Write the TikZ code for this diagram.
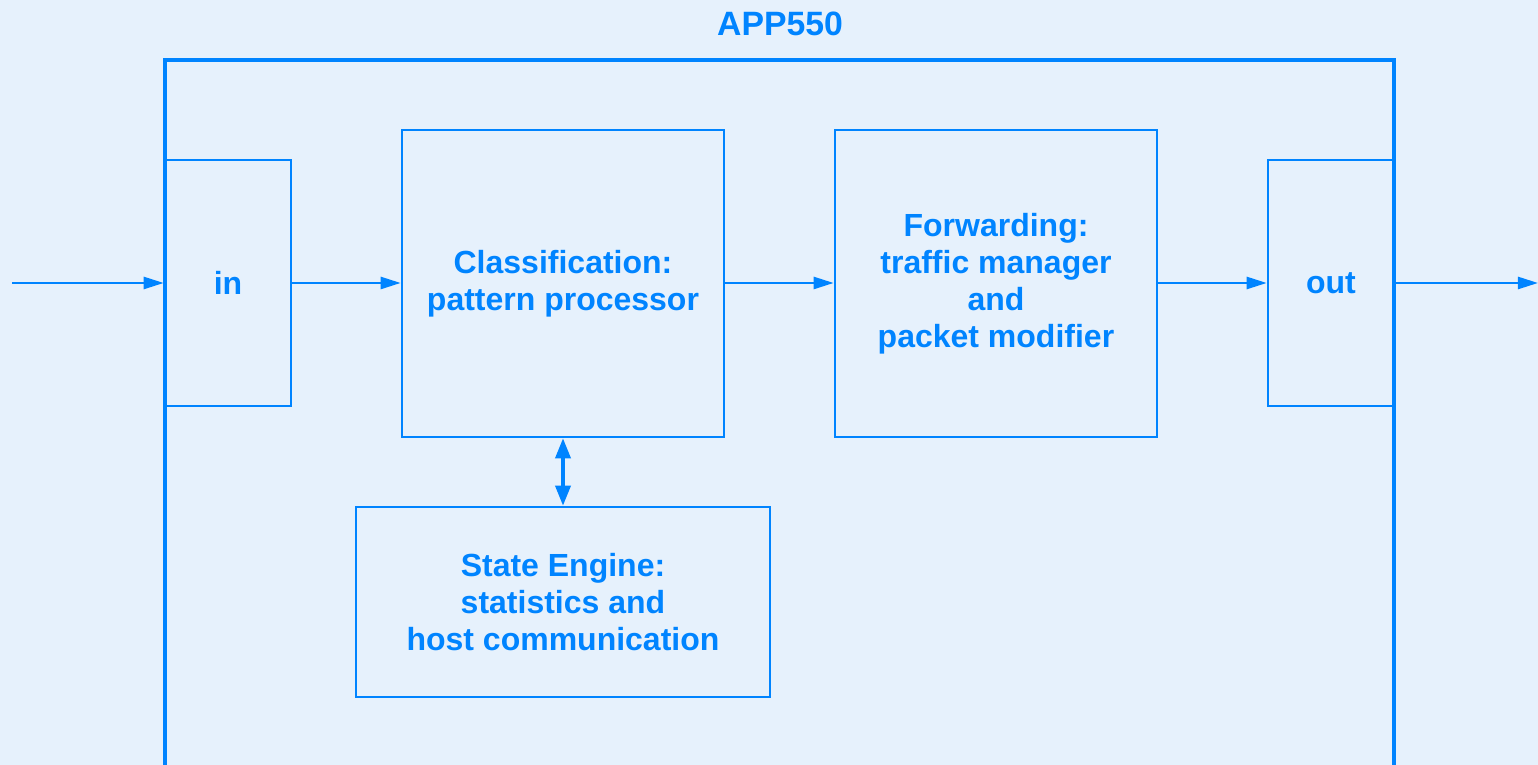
\documentclass[tikz,border=0pt]{standalone}
\usepackage{fontspec}
\setmainfont{Liberation Sans}
\usetikzlibrary{arrows.meta,positioning}
\definecolor{appblue}{RGB}{0,132,255}
\definecolor{appbg}{RGB}{230,241,252}

\begin{document}
\begin{tikzpicture}[x=0.01cm,y=-0.01cm,
  blk/.style={draw=appblue,line width=0.7pt,inner sep=0pt,align=center,
    text=appblue,font=\bfseries\fontsize{9.1}{10.5}\selectfont},
  flow/.style={draw=appblue,line width=0.7pt,-{Triangle[length=2mm,width=1.2mm]}},
  both/.style={draw=appblue,line width=1pt,{Triangle[length=2mm,width=1.5mm]}-{Triangle[length=2mm,width=1.5mm]}}]
  % Hintergrund
  \fill[appbg] (0,0) rectangle (1538,765);
  \useasboundingbox (0,0) rectangle (1538,765);

  % Chip
  \node[text=appblue,font=\bfseries\fontsize{9.6}{11}\selectfont] (title) at (780,24) {APP550};
  \draw[appblue,line width=1pt] (165,765) -- (165,60) -- (1394,60) -- (1394,765);

  % Bloecke
  \node[blk,minimum width=1.26cm,minimum height=2.46cm] (in) at (228,283) {in};
  \node[blk,minimum width=3.22cm,minimum height=3.07cm] (cls) at (563,283.5)
    {Classification:\\pattern processor};
  \node[blk,minimum width=3.22cm,minimum height=3.07cm] (fwd) at (996,283.5)
    {Forwarding:\\traffic manager\\and\\packet modifier};
  \node[blk,minimum width=1.26cm,minimum height=2.46cm] (out) at (1331,283) {out};
  \node[blk,minimum width=4.14cm,minimum height=1.90cm] (state) at (563,602)
    {State Engine:\\statistics and\\host communication};

  % Datenfluss
  \coordinate (src) at (12,283);
  \coordinate (snk) at (1538,283);
  \draw[flow] (src) -- (in.west);
  \draw[flow] (in.east) -- (cls.west |- in.east);
  \draw[flow] (cls.east |- in.east) -- (fwd.west |- in.east);
  \draw[flow] (fwd.east |- out.west) -- (out.west);
  \draw[flow] (out.east) -- (snk);
  \draw[both] (cls.south) -- (state.north);
\end{tikzpicture}
\end{document}
